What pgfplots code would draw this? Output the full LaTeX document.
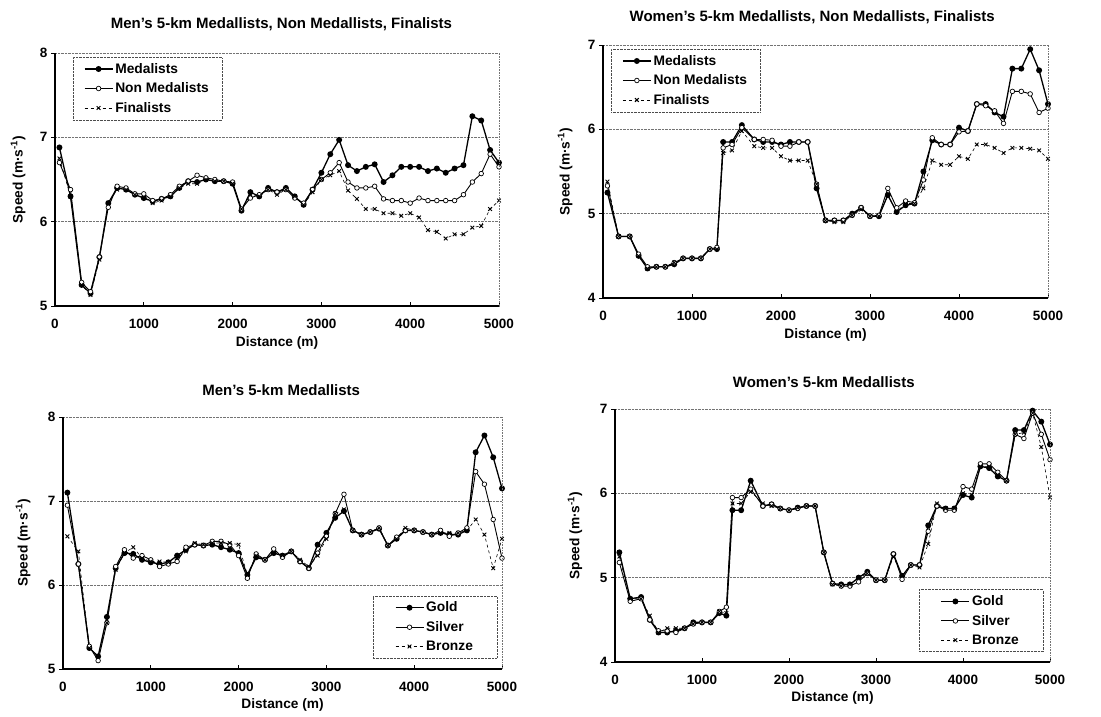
\documentclass[border=0pt]{standalone}
\usepackage{fontspec}
\setmainfont{Liberation Sans}
\usepackage{pgfplots}
\pgfplotsset{compat=1.18}
\usepackage{pgfplotstable}

\pgfplotstableread{
x M N F
50 6.88 6.70 6.75
175 6.30 6.38 6.30
300 5.25 5.28 5.25
400 5.15 5.17 5.13
500 5.58 5.58 5.55
600 6.22 6.17 6.22
700 6.40 6.42 6.38
800 6.38 6.40 6.38
900 6.32 6.33 6.32
1000 6.28 6.33 6.28
1100 6.24 6.25 6.22
1200 6.27 6.27 6.25
1300 6.30 6.32 6.30
1400 6.40 6.42 6.40
1500 6.48 6.48 6.45
1600 6.47 6.55 6.45
1700 6.50 6.52 6.50
1800 6.48 6.50 6.48
1900 6.48 6.48 6.48
2000 6.45 6.47 6.45
2100 6.13 6.15 6.15
2200 6.35 6.28 6.32
2300 6.30 6.32 6.30
2400 6.40 6.38 6.38
2500 6.35 6.35 6.32
2600 6.40 6.38 6.38
2700 6.30 6.28 6.30
2800 6.20 6.22 6.20
2900 6.38 6.38 6.35
3000 6.58 6.50 6.50
3100 6.80 6.58 6.55
3200 6.97 6.70 6.60
3300 6.67 6.47 6.37
3400 6.60 6.40 6.27
3500 6.65 6.40 6.15
3600 6.68 6.42 6.15
3700 6.47 6.27 6.10
3800 6.55 6.25 6.10
3900 6.65 6.25 6.07
4000 6.65 6.22 6.10
4100 6.65 6.28 6.05
4200 6.60 6.25 5.90
4300 6.63 6.25 5.88
4400 6.58 6.25 5.80
4500 6.63 6.25 5.85
4600 6.67 6.32 5.85
4700 7.25 6.47 5.93
4800 7.20 6.57 5.95
4900 6.85 6.80 6.15
5000 6.70 6.65 6.25
}\menA

\pgfplotstableread{
x M N F
50 5.25 5.33 5.38
175 4.73 4.73 4.73
300 4.73 4.73 4.73
400 4.50 4.52 4.50
500 4.35 4.37 4.35
600 4.37 4.37 4.37
700 4.37 4.37 4.37
800 4.40 4.42 4.42
900 4.47 4.47 4.47
1000 4.47 4.47 4.47
1100 4.47 4.47 4.47
1200 4.58 4.58 4.58
1280 4.58 4.60 4.58
1350 5.85 5.78 5.72
1450 5.85 5.82 5.75
1560 6.05 6.02 5.98
1700 5.88 5.88 5.80
1800 5.85 5.88 5.78
1900 5.85 5.87 5.78
2000 5.82 5.80 5.68
2100 5.85 5.80 5.63
2200 5.85 5.85 5.63
2300 5.85 5.85 5.63
2400 5.30 5.35 5.35
2500 4.92 4.92 4.92
2600 4.92 4.92 4.90
2700 4.92 4.92 4.90
2800 5.00 4.98 4.98
2900 5.07 5.07 5.05
3000 4.97 4.97 4.97
3100 4.97 4.98 4.97
3200 5.22 5.30 5.22
3300 5.02 5.07 5.02
3400 5.10 5.15 5.12
3500 5.12 5.13 5.12
3600 5.50 5.40 5.30
3700 5.87 5.90 5.63
3800 5.82 5.82 5.58
3900 5.82 5.82 5.58
4000 6.02 5.97 5.68
4100 5.98 5.98 5.65
4200 6.30 6.30 5.82
4300 6.30 6.28 5.82
4400 6.20 6.22 5.78
4500 6.15 6.07 5.72
4600 6.72 6.45 5.78
4700 6.72 6.45 5.78
4800 6.95 6.42 5.77
4900 6.70 6.20 5.75
5000 6.30 6.25 5.65
}\womenA

\pgfplotstableread{
x G S B
50 7.10 6.95 6.58
175 6.25 6.25 6.40
300 5.25 5.27 5.25
400 5.15 5.10 5.15
500 5.62 5.55 5.55
600 6.20 6.22 6.18
700 6.38 6.42 6.38
800 6.37 6.32 6.45
900 6.30 6.35 6.32
1000 6.27 6.30 6.28
1100 6.25 6.22 6.28
1200 6.27 6.25 6.27
1300 6.35 6.28 6.32
1400 6.42 6.45 6.40
1500 6.48 6.48 6.50
1600 6.47 6.47 6.48
1700 6.48 6.52 6.50
1800 6.45 6.52 6.50
1900 6.42 6.48 6.50
2000 6.38 6.35 6.48
2100 6.12 6.08 6.12
2200 6.33 6.37 6.35
2300 6.30 6.30 6.30
2400 6.38 6.43 6.38
2500 6.35 6.33 6.35
2600 6.40 6.40 6.40
2700 6.28 6.28 6.30
2800 6.20 6.20 6.22
2900 6.48 6.38 6.35
3000 6.62 6.58 6.55
3100 6.80 6.85 6.85
3200 6.88 7.08 6.90
3300 6.65 6.65 6.65
3400 6.60 6.60 6.60
3500 6.63 6.63 6.63
3600 6.67 6.68 6.68
3700 6.47 6.47 6.47
3800 6.55 6.57 6.55
3900 6.65 6.65 6.68
4000 6.65 6.65 6.65
4100 6.63 6.63 6.63
4200 6.60 6.60 6.60
4300 6.62 6.65 6.62
4400 6.60 6.58 6.62
4500 6.60 6.62 6.62
4600 6.65 6.68 6.65
4700 7.58 7.35 6.78
4800 7.78 7.20 6.60
4900 7.52 6.78 6.20
5000 7.15 6.32 6.55
}\menB

\pgfplotstableread{
x G S B
50 5.30 5.18 5.25
175 4.75 4.72 4.75
300 4.77 4.75 4.75
400 4.50 4.50 4.55
500 4.35 4.37 4.35
600 4.35 4.37 4.40
700 4.37 4.35 4.40
800 4.40 4.40 4.40
900 4.47 4.45 4.45
1000 4.47 4.47 4.47
1100 4.47 4.47 4.47
1200 4.58 4.60 4.60
1280 4.55 4.65 4.58
1350 5.80 5.95 5.88
1450 5.80 5.95 5.88
1560 6.15 6.05 6.02
1700 5.85 5.85 5.88
1800 5.87 5.87 5.85
1900 5.82 5.82 5.82
2000 5.80 5.80 5.80
2100 5.83 5.82 5.83
2200 5.85 5.85 5.85
2300 5.85 5.85 5.85
2400 5.30 5.30 5.30
2500 4.93 4.93 4.92
2600 4.92 4.90 4.90
2700 4.92 4.90 4.92
2800 5.00 4.95 5.00
2900 5.07 5.05 5.05
3000 4.97 4.97 4.97
3100 4.97 4.97 4.97
3200 5.28 5.28 5.25
3300 5.02 4.98 5.02
3400 5.15 5.15 5.15
3500 5.15 5.15 5.12
3600 5.62 5.55 5.40
3700 5.85 5.85 5.88
3800 5.82 5.80 5.82
3900 5.82 5.80 5.82
4000 5.98 6.08 6.00
4100 5.95 6.05 5.98
4200 6.32 6.35 6.32
4300 6.30 6.35 6.32
4400 6.20 6.25 6.22
4500 6.15 6.15 6.15
4600 6.75 6.70 6.70
4700 6.75 6.65 6.72
4800 6.98 6.95 6.95
4900 6.85 6.70 6.55
5000 6.58 6.40 5.95
}\womenB

\pgfplotsset{
  panel/.style={
    scale only axis,
    xmin=0, xmax=5000,
    xtick={0,1000,2000,3000,4000,5000},
    axis x line*=bottom, axis y line*=left,
    axis line style={line width=1.3pt, black, -},
    every tick/.style={black, line width=0.8pt},
    xtick align=inside, ytick align=outside, major tick length=4pt,
    ymajorgrids, grid style={densely dotted, black!55, line width=0.6pt},
    /pgf/number format/assume math mode=true,
    /pgf/number format/1000 sep={},
    tick label style={font=\bfseries\fontsize{13.5}{15}\selectfont},
    xticklabel style={yshift=-10pt},
    xlabel={Distance (m)}, ylabel={Speed (m·s\textsuperscript{-1})},
    label style={font=\bfseries\fontsize{13.7}{15}\selectfont},
    title style={font=\bfseries\fontsize{15}{17}\selectfont, anchor=center},
    ylabel style={anchor=center},
    xlabel style={anchor=center},
    legend style={draw=black!70, densely dotted, font=\bfseries\fontsize{13.8}{16}\selectfont, inner xsep=11pt, inner ysep=4pt, row sep=4pt},
    legend cell align=left,
    legend image code/.code={\draw[mark repeat=2,mark phase=2] plot coordinates {(0pt,0pt) (14pt,0pt) (28pt,0pt)};},
    clip=false,
    extra description/.code={\draw[densely dotted, black!55, line width=0.6pt] (rel axis cs:1,0) -- (rel axis cs:1,1);},
  },
  s1/.style={solid, black, line width=1.3pt, mark=*, mark size=2.3pt, mark options={solid, fill=black}},
  s2/.style={solid, black, line width=0.9pt, mark=*, mark size=2.3pt, mark options={solid, fill=white, line width=0.7pt}},
  s3/.style={dashed, black, line width=0.6pt, mark=x, mark size=2.6pt, mark options={solid, line width=0.9pt}},
}

\begin{document}
\begin{tikzpicture}
\useasboundingbox (0pt,0pt) rectangle (1101pt,716pt);

\begin{axis}[panel, at={(55pt,410pt)}, anchor=south west, width=444pt, height=253pt,
  ymin=5, ymax=8, ytick={5,6,7,8},
  title={Men's 5-km Medallists, Non Medallists, Finalists},
  title style={at={(rel axis cs:0.51,1.09)}},
  xlabel style={at={(rel axis cs:0.5,-0.146)}},
  ylabel style={at={(rel axis cs:-0.083,0.5)}},
  legend style={at={(0.04,0.984)}, anchor=north west}]
\addplot[s1] table[x=x,y=M] {\menA};
\addplot[s2] table[x=x,y=N] {\menA};
\addplot[s3] table[x=x,y=F] {\menA};
\legend{Medalists, Non Medalists, Finalists}
\end{axis}

\begin{axis}[panel, at={(603pt,418pt)}, anchor=south west, width=445pt, height=253pt,
  ymin=4, ymax=7, ytick={4,5,6,7},
  title={Women's 5-km Medallists, Non Medallists, Finalists},
  title style={at={(rel axis cs:0.47,1.088)}},
  xlabel style={at={(rel axis cs:0.5,-0.146)}},
  ylabel style={at={(rel axis cs:-0.085,0.5)}},
  legend style={at={(0.018,0.984)}, anchor=north west}]
\addplot[s1] table[x=x,y=M] {\womenA};
\addplot[s2] table[x=x,y=N] {\womenA};
\addplot[s3] table[x=x,y=F] {\womenA};
\legend{Medalists, Non Medalists, Finalists}
\end{axis}

\begin{axis}[panel, at={(63pt,47pt)}, anchor=south west, width=439pt, height=252pt,
  ymin=5, ymax=8, ytick={5,6,7,8},
  title={Men's 5-km Medallists},
  title style={at={(rel axis cs:0.497,1.083)}},
  xlabel style={at={(rel axis cs:0.5,-0.143)}},
  ylabel style={at={(rel axis cs:-0.091,0.5)}},
  legend style={at={(0.989,0.043)}, anchor=south east, inner xsep=22pt}]
\addplot[s1] table[x=x,y=G] {\menB};
\addplot[s2] table[x=x,y=S] {\menB};
\addplot[s3] table[x=x,y=B] {\menB};
\legend{Gold, Silver, Bronze}
\end{axis}

\begin{axis}[panel, at={(615pt,54pt)}, anchor=south west, width=435pt, height=253pt,
  ymin=4, ymax=7, ytick={4,5,6,7},
  title={Women's 5-km Medallists},
  title style={at={(rel axis cs:0.48,1.083)}},
  xlabel style={at={(rel axis cs:0.5,-0.143)}},
  ylabel style={at={(rel axis cs:-0.092,0.5)}},
  legend style={at={(0.984,0.04)}, anchor=south east, inner xsep=22pt}]
\addplot[s1] table[x=x,y=G] {\womenB};
\addplot[s2] table[x=x,y=S] {\womenB};
\addplot[s3] table[x=x,y=B] {\womenB};
\legend{Gold, Silver, Bronze}
\end{axis}
\end{tikzpicture}
\end{document}
